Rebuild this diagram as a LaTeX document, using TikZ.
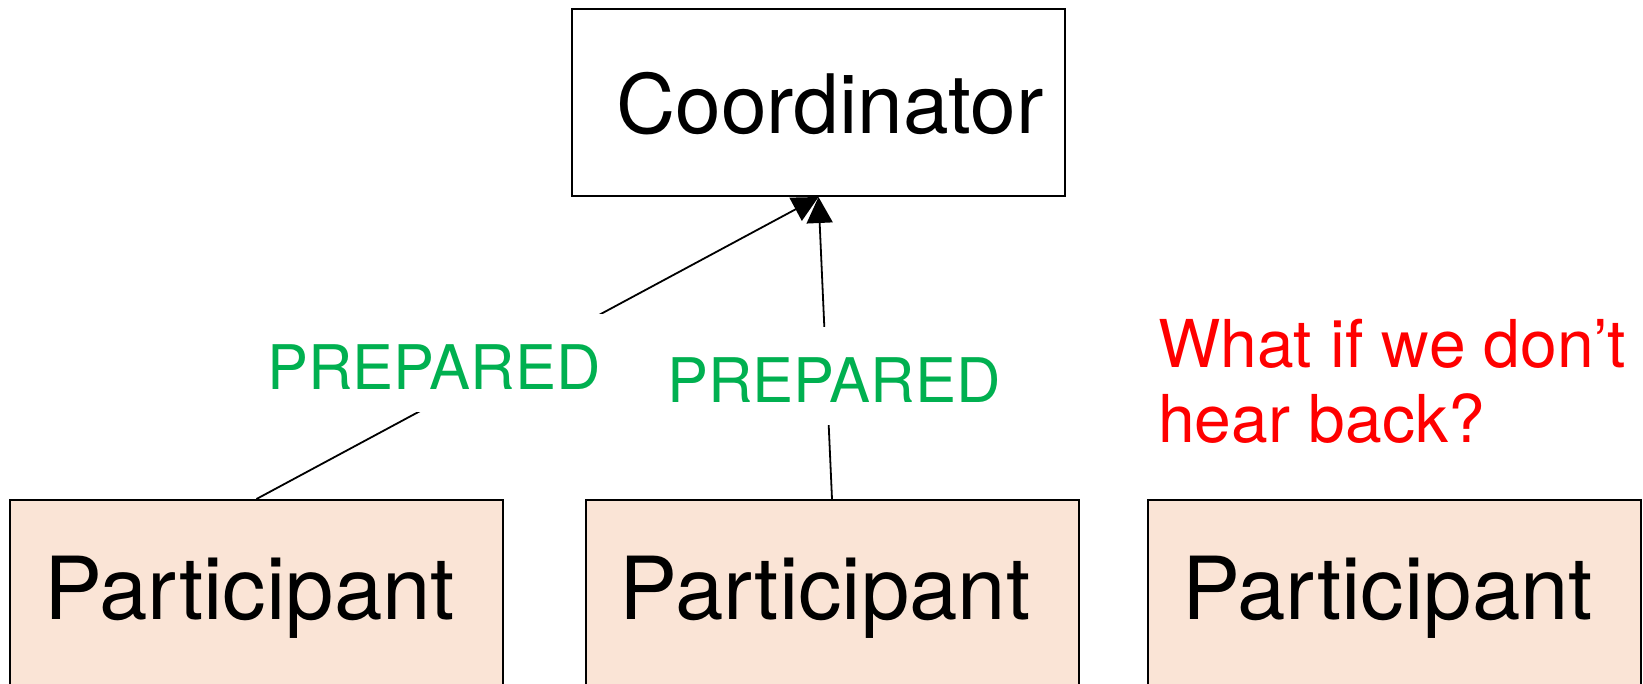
\documentclass[tikz,border=0pt]{standalone}
\usepackage{fontspec}
\setmainfont{TeX Gyre Heros}
\usetikzlibrary{arrows.meta}
\definecolor{peach}{HTML}{FAE4D6}
\definecolor{prepgreen}{HTML}{00B050}
\definecolor{warnred}{HTML}{FF0000}
\begin{document}
\begin{tikzpicture}[x=1pt,y=-1pt,
  coordbox/.style={draw=black,line width=2pt,fill=white,inner sep=0pt,
    minimum width=493pt,text height=125pt,text depth=62pt,
    font=\fontsize{82}{90}\selectfont,anchor=north},
  partbox/.style={draw=black,line width=2pt,fill=peach,inner sep=0pt,
    minimum width=493pt,text height=119pt,text depth=181pt,
    font=\fontsize{87}{95}\selectfont,anchor=north},
  msg/.style={-{Triangle[length=26pt,width=26pt]},line width=1.8pt},
  msglabel/.style={fill=white,text=prepgreen,inner xsep=4pt,inner ysep=0pt,
    text height=75pt,text depth=23pt,font=\fontsize{61.5}{66}\selectfont,anchor=base},
  note/.style={text=warnred,align=left,anchor=base west,inner sep=0pt,
    font=\fontsize{66}{75}\selectfont}
]
\useasboundingbox (0,0) rectangle (1643,684);
\node[coordbox] (c) at (818.5,8) {\kern23pt Coordinator};
\node[partbox] (p1) at (256.5,499) {Participant\kern14pt};
\node[partbox] (p2) at (832,499) {Participant\kern14pt};
\node[partbox] (p3) at (1394.5,499) {Participant\kern14pt};
\draw[msg] (p1.north) -- (c.south);
\draw[msg] (p2.north) -- (c.south);
\node[msglabel] (l1) at (434,389) {PREPARED};
\node[msglabel] (l2) at (834,402) {PREPARED};
\node[note] (q) at (1158,442) {What if we don’t\\hear back?};
\end{tikzpicture}
\end{document}
